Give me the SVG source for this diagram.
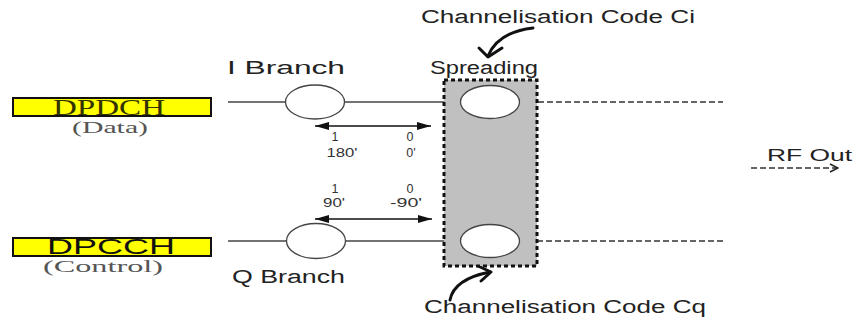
<svg xmlns="http://www.w3.org/2000/svg" width="855" height="325" viewBox="0 0 855 325">
  <style>
    .lbl { font-family: "Liberation Sans", Arial, sans-serif; fill: #222; }
    .big { font-size: 18px; }
    .num { font-size: 12.5px; fill: #333; }
    .ser { font-family: "Liberation Serif", "Times New Roman", serif; }
    .chan { fill: #ffff00; stroke: #111; stroke-width: 2; }
    .mix { fill: #fff; stroke: #444; stroke-width: 1.3; }
    .wire { stroke: #444; stroke-width: 1.3; fill: none; }
    .dash { stroke: #333; stroke-width: 1.5; stroke-dasharray: 6 3; fill: none; }
    .phase { stroke: #111; stroke-width: 1.5; fill: none; marker-start: url(#tri); marker-end: url(#tri); }
    .curl { stroke: #111; stroke-width: 3; fill: none; stroke-linecap: round; stroke-linejoin: round; }
  </style>
  <defs>
    <marker id="tri" viewBox="0 0 14 8" refX="14" refY="4" markerWidth="14" markerHeight="8" markerUnits="userSpaceOnUse" orient="auto-start-reverse">
      <path d="M0,0 L14,4 L0,8 Z" fill="#111"/>
    </marker>
    <marker id="open" viewBox="0 0 10 10" refX="9" refY="5" markerWidth="10" markerHeight="10" markerUnits="userSpaceOnUse" orient="auto">
      <path d="M1,1 L9,5 L1,9" fill="none" stroke="#222" stroke-width="1.5"/>
    </marker>
  </defs>

  <rect width="855" height="325" fill="#fff"/>

  <!-- connectors -->
  <g id="connectors">
    <line class="wire" x1="228" y1="102" x2="286" y2="102"/>
    <line class="wire" x1="344" y1="102" x2="461" y2="102"/>
    <line class="dash" x1="520" y1="102" x2="723" y2="102"/>
    <line class="wire" x1="228" y1="241" x2="287" y2="241"/>
    <line class="wire" x1="345" y1="241" x2="461" y2="241"/>
    <line class="dash" x1="519" y1="241" x2="723" y2="241"/>
    <line class="phase" x1="315" y1="126" x2="431" y2="126"/>
    <line class="phase" x1="315" y1="219" x2="432" y2="219"/>
    <line class="dash" x1="751" y1="168" x2="838" y2="168" marker-end="url(#open)"/>
    <!-- code injection curls -->
    <path class="curl" d="M533,28 Q498,32 488,56"/>
    <path class="curl" d="M479,48 L488,57 L502,48"/>
    <path class="curl" d="M450,300 Q454,279 490,272"/>
    <path class="curl" d="M478,266 L491,272 L481,281"/>
  </g>

  <!-- spreading block -->
  <g id="spreading">
    <rect x="444" y="80" width="93" height="186" fill="#c0c0c0" stroke="#111" stroke-width="3" stroke-dasharray="4 3"/>
    <text class="lbl big" x="430" y="74" textLength="108" lengthAdjust="spacingAndGlyphs">Spreading</text>
  </g>

  <g id="spread-i"><ellipse class="mix" cx="490" cy="102" rx="29.5" ry="16.5"/></g>
  <g id="spread-q"><ellipse class="mix" cx="490" cy="241" rx="29.5" ry="16.5"/></g>

  <g id="mod-i">
    <ellipse class="mix" cx="315" cy="102" rx="29.5" ry="17"/>
    <text class="lbl big" x="227" y="74" textLength="118" lengthAdjust="spacingAndGlyphs">I Branch</text>
  </g>
  <g id="mod-q">
    <ellipse class="mix" cx="316" cy="241" rx="29.5" ry="17.5"/>
    <text class="lbl big" x="232" y="283" textLength="113" lengthAdjust="spacingAndGlyphs">Q Branch</text>
  </g>

  <g id="dpdch">
    <rect class="chan" x="13" y="98" width="198" height="18"/>
    <text class="ser" x="53" y="115" font-size="24" fill="#333300" textLength="112" lengthAdjust="spacingAndGlyphs">DPDCH</text>
    <text class="ser" x="72" y="133" font-size="16" fill="#555" textLength="76" lengthAdjust="spacingAndGlyphs">(Data)</text>
  </g>
  <g id="dpcch">
    <rect class="chan" x="13" y="238" width="198" height="18"/>
    <text x="47" y="254" font-family="Liberation Sans, Arial, sans-serif" font-size="22" fill="#111" textLength="128" lengthAdjust="spacingAndGlyphs">DPCCH</text>
    <text class="ser" x="43" y="272" font-size="16" fill="#555" textLength="120" lengthAdjust="spacingAndGlyphs">(Control)</text>
  </g>

  <g id="phase-labels">
    <text class="lbl num" x="335" y="141" text-anchor="middle">1</text>
    <text class="lbl num" x="342" y="157" text-anchor="middle" textLength="31" lengthAdjust="spacingAndGlyphs">180'</text>
    <text class="lbl num" x="410" y="141" text-anchor="middle">0</text>
    <text class="lbl num" x="411" y="157" text-anchor="middle">0'</text>
    <text class="lbl num" x="335" y="193" text-anchor="middle">1</text>
    <text class="lbl num" x="334" y="207" text-anchor="middle" textLength="22" lengthAdjust="spacingAndGlyphs">90'</text>
    <text class="lbl num" x="410" y="193" text-anchor="middle">0</text>
    <text class="lbl num" x="406" y="207" text-anchor="middle" textLength="32" lengthAdjust="spacingAndGlyphs">-90'</text>
  </g>

  <g id="code-ci">
    <text class="lbl big" x="421" y="23" textLength="274" lengthAdjust="spacingAndGlyphs">Channelisation Code Ci</text>
  </g>
  <g id="code-cq">
    <text class="lbl big" x="424" y="313" textLength="282" lengthAdjust="spacingAndGlyphs">Channelisation Code Cq</text>
  </g>
  <g id="rf-out">
    <text class="lbl" x="767" y="161" font-size="16" textLength="85" lengthAdjust="spacingAndGlyphs">RF Out</text>
  </g>
</svg>
